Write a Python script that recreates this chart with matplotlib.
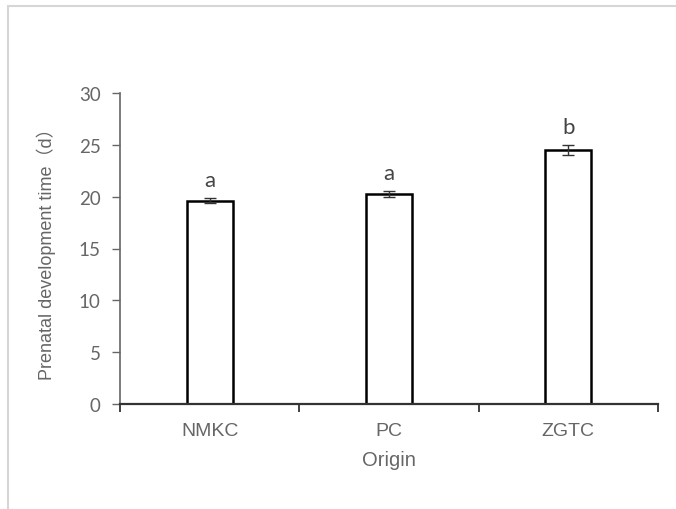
import matplotlib.pyplot as plt
from matplotlib.patches import Rectangle

# data
origins = ["NMKC", "PC", "ZGTC"]
dev_time = [19.6, 20.25, 24.5]
dev_err = [0.25, 0.3, 0.5]
letters = ["a", "a", "b"]

grey = "#666666"

fig = plt.figure(figsize=(6.76, 5.10), dpi=100)
# light border of the original picture
fig.patches.append(Rectangle((8 / 676, -0.1), 1.2, (510 - 7) / 510 + 0.1,
                             transform=fig.transFigure, fill=False,
                             edgecolor="#d6d6d6", lw=1.5))
ax = fig.add_axes([120 / 676, 105 / 510, 538 / 676, 311 / 510])

x = range(len(origins))
ax.bar(x, dev_time, width=0.255, color="white", edgecolor="black", lw=1.8, zorder=2)
ax.errorbar(x, dev_time, yerr=dev_err, fmt="none", ecolor="#333333",
            elinewidth=1, capsize=4, capthick=1, zorder=3)
for i, v in enumerate(dev_time):
    ax.text(i, v + dev_err[i] + 0.8, letters[i], ha="center", va="bottom",
            fontsize=16, color="#444444", family="Lato")

ax.set_xlim(-0.5, 2.5)
ax.set_ylim(0, 30)
ax.set_yticks(range(0, 31, 5))
ax.set_yticklabels([str(t) for t in range(0, 31, 5)], family="Lato",
                   fontsize=13.5, color=grey)
ax.set_xticks(list(x))
ax.set_xticklabels(origins, fontsize=14, color=grey, family="Liberation Sans")
ax.set_xticks([-0.5, 0.5, 1.5, 2.5], minor=True)
ax.tick_params(axis="x", which="major", length=0, pad=13)
ax.tick_params(axis="x", which="minor", direction="out", length=6, width=1.3, color="#333333")
ax.tick_params(axis="y", direction="out", length=6, width=1, color=grey, pad=8)

for s in ["top", "right"]:
    ax.spines[s].set_visible(False)
ax.spines["left"].set_color(grey)
ax.spines["left"].set_linewidth(1.2)
ax.spines["bottom"].set_color("#333333")
ax.spines["bottom"].set_linewidth(1.6)

ax.set_xlabel("Origin", fontsize=14.5, color=grey, family="Liberation Sans", labelpad=8)
ax.set_ylabel("Prenatal development time（d）", fontsize=13, color=grey,
              family=["Liberation Sans", "Noto Sans CJK SC"], labelpad=16)

fig.savefig("out.png", dpi=100)
